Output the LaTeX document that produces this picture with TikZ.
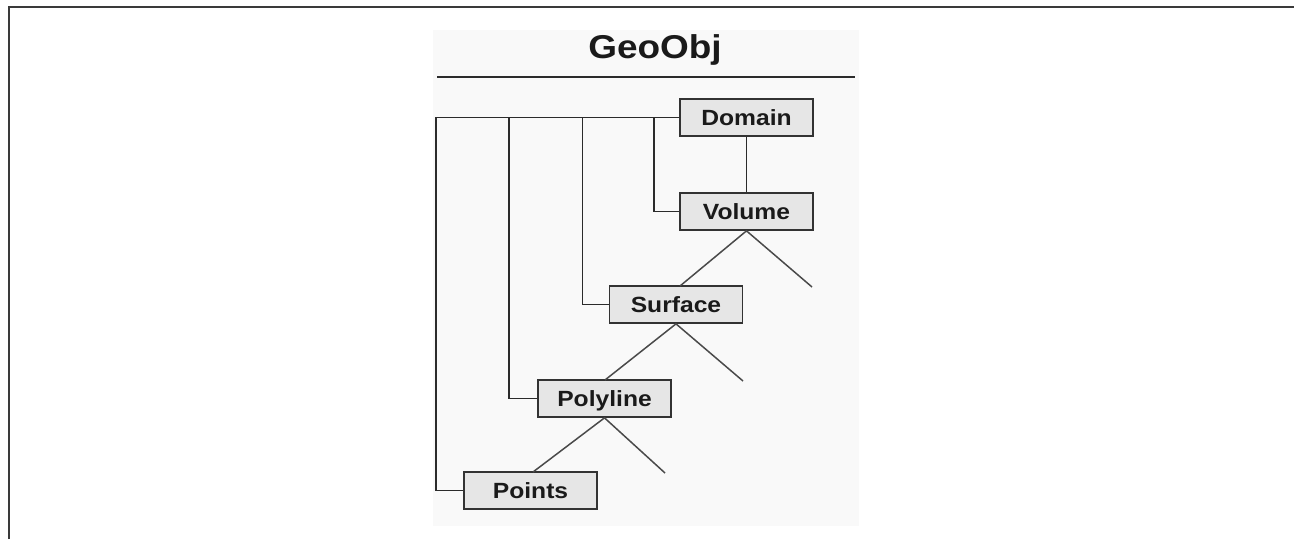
\documentclass[tikz,border=0pt]{standalone}
\usepackage{fontspec}
\newfontfamily\lblfont[FakeStretch=1.12]{Liberation Sans}
\newfontfamily\ttlfont[FakeStretch=1.12]{Liberation Sans}
\definecolor{boxfill}{HTML}{E6E6E6}
\definecolor{boxline}{HTML}{333333}
\definecolor{txt}{HTML}{1A1A1A}
\definecolor{lnk}{HTML}{2B2B2B}
\definecolor{diagc}{HTML}{4A4A4A}
\definecolor{panel}{HTML}{F9F9F9}
\definecolor{framec}{HTML}{3A3A3A}
\begin{document}
\begin{tikzpicture}[x=1pt,y=-1pt,
  cls/.style={draw=boxline, line width=1.7pt, fill=boxfill, minimum width=133pt,
    minimum height=37pt, inner sep=0pt, text=txt,
    font=\lblfont\bfseries\fontsize{22}{22}\selectfont, text height=16pt, text depth=0pt},
  ttl/.style={inner sep=0pt, text=txt, font=\ttlfont\bfseries\fontsize{33}{33}\selectfont},
  link/.style={draw=lnk, line width=1.6pt},
  diag/.style={draw=diagc, line width=1.5pt},
  rule/.style={draw=lnk, line width=1.6pt},
  framel/.style={draw=framec, line width=2pt}]
\useasboundingbox (0,0) rectangle (1294,539);
\fill[panel] (433,30) rectangle (859,526);
\draw[framel] (8.5,539) -- (8.5,6.5) -- (1294,6.5);

\node[ttl, anchor=base] (title) at (655,58) {GeoObj};
\coordinate (ruleL) at (437,77);
\coordinate (ruleR) at (855,77);
\draw[rule] (ruleL) -- (ruleR);

\node[cls] (domain) at (746.5,117.5) {Domain};
\node[cls] (volume) at (746.5,211.5) {Volume};
\node[cls] (surface) at (676,304.5) {Surface};
\node[cls] (polyline) at (604.5,398.5) {Polyline};
\node[cls] (points) at (530.5,490.5) {Points};

\coordinate (b0) at (436,117.5);
\coordinate (b1) at (509,117.5);
\coordinate (b2) at (582.5,117.5);
\coordinate (b3) at (654,117.5);
\draw[link] (domain.west) -- (b0) |- (points.west);
\draw[link] (b1) |- (polyline.west);
\draw[link] (b2) |- (surface.west);
\draw[link] (b3) |- (volume.west);
\draw[link] (domain.south) -- (volume.north);

\coordinate (vL) at (680,286);
\coordinate (vR) at (812,287);
\coordinate (sL) at (605,380);
\coordinate (sR) at (743,381);
\coordinate (pL) at (533,472);
\coordinate (pR) at (665,473);
\draw[diag] (vL) -- (volume.south) -- (vR);
\draw[diag] (sL) -- (surface.south) -- (sR);
\draw[diag] (pL) -- (polyline.south) -- (pR);
\end{tikzpicture}
\end{document}
